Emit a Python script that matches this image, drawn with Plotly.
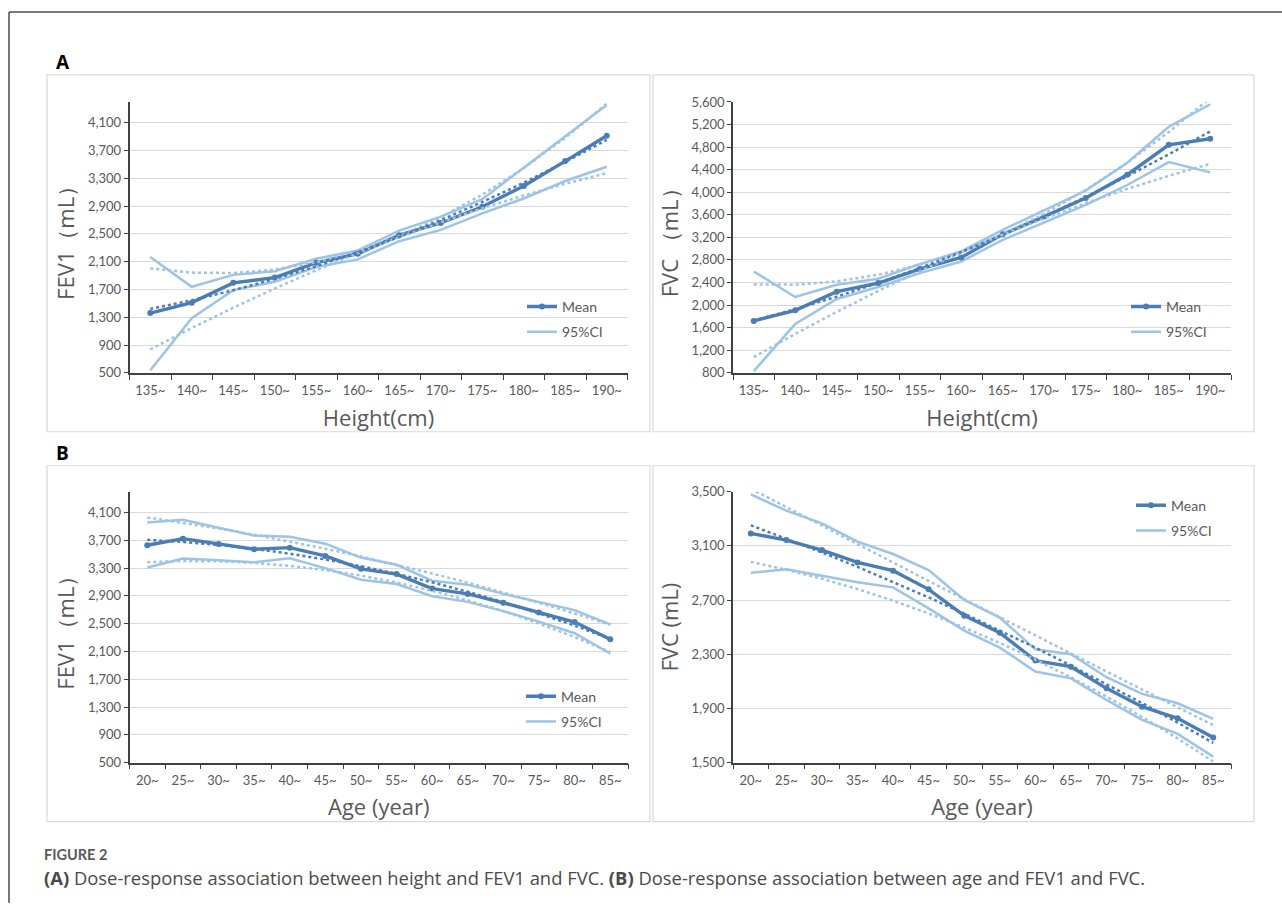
import numpy as np
import plotly.graph_objects as go

# ---------------- data ----------------
height_cats = ["135~", "140~", "145~", "150~", "155~", "160~", "165~", "170~", "175~", "180~", "185~", "190~"]
age_cats = ["20~", "25~", "30~", "35~", "40~", "45~", "50~", "55~", "60~", "65~", "70~", "75~", "80~", "85~"]

fev1_height_mean = [1360, 1510, 1795, 1871, 2086, 2214, 2481, 2657, 2890, 3190, 3548, 3914]
fev1_height_upper = [2167, 1738, 1910, 1962, 2143, 2262, 2548, 2748, 3000, 3452, 3905, 4357]
fev1_height_lower = [538, 1286, 1690, 1810, 2024, 2133, 2395, 2557, 2795, 3010, 3262, 3467]

fvc_height_mean = [1719, 1907, 2237, 2390, 2638, 2844, 3256, 3568, 3898, 4310, 4841, 4947]
fvc_height_upper = [2596, 2143, 2361, 2467, 2726, 2950, 3333, 3686, 4028, 4522, 5159, 5559]
fvc_height_lower = [829, 1666, 2108, 2320, 2567, 2773, 3156, 3462, 3774, 4128, 4534, 4352]

fev1_age_mean = [3629, 3724, 3648, 3571, 3595, 3476, 3290, 3214, 3005, 2929, 2800, 2662, 2524, 2276]
fev1_age_upper = [3957, 3995, 3881, 3771, 3752, 3652, 3452, 3348, 3119, 3062, 2929, 2810, 2695, 2490]
fev1_age_lower = [3310, 3438, 3414, 3386, 3443, 3300, 3133, 3071, 2895, 2814, 2681, 2529, 2362, 2071]

fvc_age_mean = [3192, 3143, 3069, 2978, 2917, 2779, 2585, 2459, 2253, 2208, 2048, 1913, 1827, 1685]
fvc_age_upper = [3480, 3360, 3266, 3131, 3040, 2922, 2700, 2570, 2336, 2300, 2130, 2007, 1938, 1822]
fvc_age_lower = [2902, 2927, 2880, 2831, 2794, 2639, 2474, 2349, 2172, 2122, 1962, 1815, 1712, 1544]

# ---------------- styling ----------------
W, H = 1282, 911
MEAN_C = "#4a7db6"
CI_C = "#9dc3e6"
GRID_C = "#d9d9d9"
TXT_C = "#595959"
AX_C = "#404040"
TICK_FONT = dict(family="Lato, Open Sans, sans-serif", size=13, color=TXT_C)
TITLE_FONT = dict(family="Open Sans, sans-serif", size=22, color=TXT_C)

# vertical placement correction for the photographed page
Y_OFF, Y_SCALE = 8.0, 0.983


def fx(px):
    return px / W


def fy(py):
    return 1 - ((py - Y_OFF) / Y_SCALE) / H


panels = [
    dict(cats=height_cats, mean=fev1_height_mean, upper=fev1_height_upper, lower=fev1_height_lower,
         xa="x", ya="y", leg="legend", dom_x=(129.5, 627.5), dom_y=(102, 373),
         yr=(500, 4400), t0=500, xt="Height(cm)", yt="FEV1（mL）", legpos=(522, 291)),
    dict(cats=height_cats, mean=fvc_height_mean, upper=fvc_height_upper, lower=fvc_height_lower,
         xa="x2", ya="y2", leg="legend2", dom_x=(733, 1231), dom_y=(102, 373),
         yr=(800, 5600), t0=800, xt="Height(cm)", yt="FVC （mL）", legpos=(1126, 291)),
    dict(cats=age_cats, mean=fev1_age_mean, upper=fev1_age_upper, lower=fev1_age_lower,
         xa="x3", ya="y3", leg="legend3", dom_x=(129.5, 628), dom_y=(492, 763),
         yr=(500, 4400), t0=500, xt="Age (year)", yt="FEV1（mL）", legpos=(521, 681)),
    dict(cats=age_cats, mean=fvc_age_mean, upper=fvc_age_upper, lower=fvc_age_lower,
         xa="x4", ya="y4", leg="legend4", dom_x=(733, 1231), dom_y=(492, 763),
         yr=(1500, 3500), t0=1500, xt="Age (year)", yt="FVC (mL)", legpos=(1131, 490)),
]

fig = go.Figure()
layout = dict(
    width=W, height=H, margin=dict(l=0, r=0, t=0, b=0),
    paper_bgcolor="white", plot_bgcolor="white",
    shapes=[], annotations=[],
)

for i, p in enumerate(panels):
    cats = p["cats"]
    idx = np.arange(len(cats))
    common = dict(xaxis=p["xa"], yaxis=p["ya"], x=cats, mode="lines", hoverinfo="skip")
    # CI lines
    fig.add_trace(go.Scatter(y=p["upper"], line=dict(color=CI_C, width=2.5), name="95%CI",
                             legend=p["leg"], legendgroup=f"ci{i}", legendrank=2, showlegend=True, **common))
    fig.add_trace(go.Scatter(y=p["lower"], line=dict(color=CI_C, width=2.5), name="95%CI",
                             legend=p["leg"], legendgroup=f"ci{i}", showlegend=False, **common))
    # mean line
    c2 = dict(common)
    c2["mode"] = "lines+markers"
    fig.add_trace(go.Scatter(y=p["mean"], line=dict(color=MEAN_C, width=3.4),
                             marker=dict(symbol="circle", size=6, color=MEAN_C),
                             name="Mean", legend=p["leg"], legendgroup=f"m{i}", legendrank=1,
                             showlegend=True, **c2))
    # polynomial (order 2) trend lines, as in the original spreadsheet chart
    for series, color in [(p["upper"], CI_C), (p["lower"], CI_C), (p["mean"], MEAN_C)]:
        coef = np.polyfit(idx, np.asarray(series, dtype=float), 2)
        trend = np.polyval(coef, idx)
        fig.add_trace(go.Scatter(y=trend, line=dict(color=color, width=2.5, dash="dot"),
                                 showlegend=False, **common))

    n = "" if i == 0 else str(i + 1)
    layout["xaxis" + n] = dict(
        domain=[fx(p["dom_x"][0]), fx(p["dom_x"][1])], anchor=p["ya"],
        type="category", range=[-0.5, len(cats) - 0.5], tickson="boundaries",
        ticks="outside", ticklen=5, tickwidth=1.3, tickcolor=AX_C, ticklabelstandoff=5,
        showline=True, linecolor=AX_C, linewidth=1.5, showgrid=False, zeroline=False,
        tickfont=TICK_FONT, title=dict(text=p["xt"], font=TITLE_FONT, standoff=13),
    )
    layout["yaxis" + n] = dict(
        domain=[fy(p["dom_y"][1]), fy(p["dom_y"][0])], anchor=p["xa"],
        range=list(p["yr"]), tick0=p["t0"], dtick=400, tickformat=",d",
        ticks="outside", ticklen=4, tickwidth=1.3, tickcolor=AX_C,
        showline=True, linecolor=AX_C, linewidth=1.5, showgrid=True, gridcolor=GRID_C,
        gridwidth=1, zeroline=False, tickfont=TICK_FONT,
        title=dict(text=p["yt"], font=TITLE_FONT, standoff=7),
    )
    layout[p["leg"]] = dict(
        x=fx(p["legpos"][0]), y=fy(p["legpos"][1]), xanchor="left", yanchor="top",
        bgcolor="rgba(0,0,0,0)", font=dict(family="Lato, Open Sans, sans-serif", size=14, color=TXT_C),
        traceorder="grouped", tracegroupgap=4, itemwidth=30,
    )

# panel boxes
for (x0, x1, y0, y1) in [(47, 650, 75, 432), (653, 1254, 75, 432), (47, 650, 466, 822), (653, 1254, 466, 822)]:
    layout["shapes"].append(dict(type="rect", xref="paper", yref="paper",
                                 x0=fx(x0), x1=fx(x1), y0=fy(y1), y1=fy(y0),
                                 line=dict(color=GRID_C, width=1.2), fillcolor="rgba(0,0,0,0)", layer="below"))
# outer frame (top and left edges)
layout["shapes"].append(dict(type="line", xref="paper", yref="paper", x0=fx(9), x1=1.0, y0=fy(12), y1=fy(12),
                             line=dict(color="#4d4d4d", width=1.5)))
layout["shapes"].append(dict(type="line", xref="paper", yref="paper", x0=fx(9), x1=fx(9), y0=fy(12), y1=0,
                             line=dict(color="#4d4d4d", width=1.5)))

# panel letters and caption
for letter, py in [("A", 62), ("B", 453)]:
    layout["annotations"].append(dict(text=f"<b>{letter}</b>", xref="paper", yref="paper",
                                      x=fx(54), y=fy(py), xanchor="left", yanchor="middle", showarrow=False,
                                      font=dict(family="Open Sans, sans-serif", size=19, color="#000000")))
layout["annotations"].append(dict(text="<b>FIGURE 2</b>", xref="paper", yref="paper", x=fx(42), y=fy(855),
                                  xanchor="left", yanchor="middle", showarrow=False,
                                  font=dict(family="Lato, sans-serif", size=14.5, color="#5a5a5a")))
layout["annotations"].append(dict(
    text="<b>(A)</b> Dose-response association between height and FEV1 and FVC. "
         "<b>(B)</b> Dose-response association between age and FEV1 and FVC.",
    xref="paper", yref="paper", x=fx(42), y=fy(878), xanchor="left", yanchor="middle", showarrow=False,
    font=dict(family="Open Sans, sans-serif", size=18.4, color="#4a4a4a")))

fig.update_layout(**layout)

post = (
    "document.documentElement.style.margin='0';document.documentElement.style.padding='0';"
    "document.documentElement.style.overflow='hidden';"
    "document.body.style.margin='0';document.body.style.padding='0';document.body.style.overflow='hidden';"
    "var d=document.getElementById('{plot_id}');"
    "d.style.position='absolute';d.style.top='0px';d.style.left='0px';"
)
fig.write_html("out.html", post_script=post, config={"displayModeBar": False})
